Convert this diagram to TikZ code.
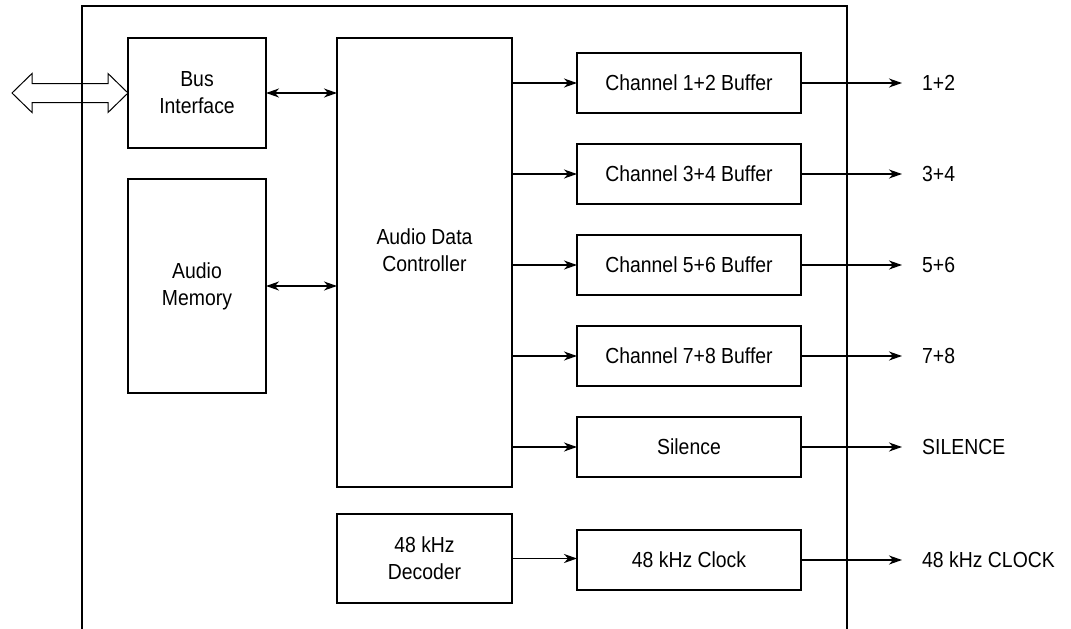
\documentclass[tikz,border=0pt]{standalone}
\usepackage{fontspec}
\setmainfont{Liberation Sans}[FakeStretch=0.89]
\usetikzlibrary{positioning,calc,arrows.meta}

\begin{document}
\begin{tikzpicture}[x=1pt, y=-1pt,
    font=\fontsize{21.8}{27}\selectfont,
    blk/.style={draw, line width=2.8pt, inner sep=0pt, outer sep=0pt, align=center},
    buf/.style={blk, minimum width=224pt, minimum height=60pt},
    lbl/.style={inner sep=0pt, anchor=west},
    uni/.style={-{Stealth[length=13pt, width=9pt, inset=4pt]}, line width=1.3pt},
    bi/.style={{Stealth[length=13pt, width=9pt, inset=4pt]}-{Stealth[length=13pt, width=9pt, inset=4pt]}, line width=1.3pt},
    outarr/.style={uni, shorten >=20pt}
]
    \useasboundingbox (0,0) rectangle (1071,629);
    \draw[line width=1.3pt] (82,629) -- (82,6) -- (847,6) -- (847,629);

    \node[blk, minimum width=138pt, minimum height=110pt] (bus) at (197,93) {Bus\\Interface};
    \node[blk, minimum width=138pt, minimum height=214pt, below=31pt of bus] (mem) {Audio\\Memory};
    \node[blk, minimum width=175pt, minimum height=449pt, below right=0pt and 71pt of bus.north east] (ctrl) {};
    \node[align=center] at ([yshift=12pt]ctrl.center) (ctrltxt) {Audio Data\\Controller};
    \node[blk, minimum width=175pt, minimum height=89pt, below=27pt of ctrl] (dec) {48 kHz\\Decoder};

    \node[buf] (b12) at (689,83) {Channel 1+2 Buffer};
    \node[buf, below=31pt of b12] (b34) {Channel 3+4 Buffer};
    \node[buf, below=31pt of b34] (b56) {Channel 5+6 Buffer};
    \node[buf, below=31pt of b56] (b78) {Channel 7+8 Buffer};
    \node[buf, below=31pt of b78] (sil) {Silence};
    \node[buf, below=53pt of sil] (clk) {48 kHz Clock};

    \node[lbl, right=121pt of b12] (o12) {1+2};
    \node[lbl, right=121pt of b34] (o34) {3+4};
    \node[lbl, right=121pt of b56] (o56) {5+6};
    \node[lbl, right=121pt of b78] (o78) {7+8};
    \node[lbl, right=121pt of sil] (osil) {SILENCE};
    \node[lbl, right=121pt of clk] (oclk) {48 kHz CLOCK};

    % external bus
    \coordinate (ext) at (12,93);
    \draw[line width=1pt] (bus.west) -- ++(-20,-19.5) -- ++(0,10) -- ($(ext)+(20,-9.5)$) -- ++(0,-10) -- (ext)
        -- ++(20,19.5) -- ++(0,-10) -- ($(bus.west)+(-20,9.5)$) -- ++(0,10) -- cycle;

    \draw[bi] (bus.east) -- (bus.east -| ctrl.west);
    \draw[bi] (mem.east) -- (mem.east -| ctrl.west);

    \draw[uni] (ctrl.east |- b12.west) -- (b12.west);
    \draw[uni] (ctrl.east |- b34.west) -- (b34.west);
    \draw[uni] (ctrl.east |- b56.west) -- (b56.west);
    \draw[uni] (ctrl.east |- b78.west) -- (b78.west);
    \draw[uni] (ctrl.east |- sil.west) -- (sil.west);
    \draw[uni] (dec.east) -- (dec.east -| clk.west);

    \draw[outarr] (b12.east) -- (o12.west);
    \draw[outarr] (b34.east) -- (o34.west);
    \draw[outarr] (b56.east) -- (o56.west);
    \draw[outarr] (b78.east) -- (o78.west);
    \draw[outarr] (sil.east) -- (osil.west);
    \draw[outarr] (clk.east) -- (oclk.west);
\end{tikzpicture}
\end{document}
